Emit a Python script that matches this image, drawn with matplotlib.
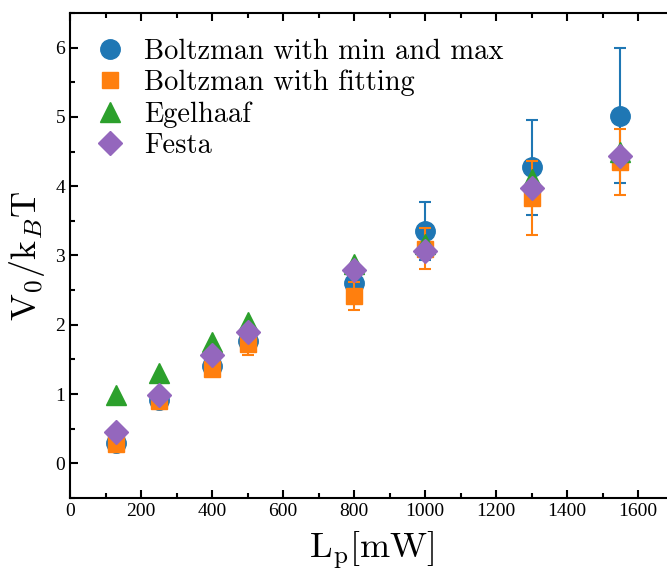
"""Barrier height V0/kBT against laser power for four estimation methods."""

import matplotlib
matplotlib.use("Agg")
import matplotlib.pyplot as plt
from matplotlib.font_manager import FontProperties
from matplotlib.ticker import MultipleLocator

# Laser power [mW]
power = [130, 250, 400, 500, 800, 1000, 1300, 1550]

# Boltzmann inversion using min and max of the potential
boltz_minmax = [0.30, 0.92, 1.40, 1.77, 2.61, 3.35, 4.27, 5.02]
boltz_minmax_err = [0.05, 0.08, 0.10, 0.15, 0.25, 0.42, 0.69, 0.97]

# Boltzmann inversion with a fitted potential
boltz_fit = [0.28, 0.90, 1.36, 1.72, 2.42, 3.10, 3.83, 4.35]
boltz_fit_err = [0.06, 0.06, 0.08, 0.15, 0.20, 0.30, 0.53, 0.48]

egelhaaf = [0.98, 1.30, 1.75, 2.04, 2.88, 3.16, 4.10, 4.50]
festa = [0.45, 0.98, 1.57, 1.90, 2.79, 3.06, 3.98, 4.44]

labels = [
    "Boltzman with min and max",
    "Boltzman with fitting",
    "Egelhaaf",
    "Festa",
]

plt.rcParams["font.family"] = ["Liberation Serif", "DejaVu Serif"]
plt.rcParams["mathtext.fontset"] = "cm"

fig = plt.figure(figsize=(6.67, 5.74), dpi=100)
# right edge sits just past the figure so the right spine is cut off
ax = fig.add_axes([0.105, 0.1324, 0.905, 0.845])

h1 = ax.errorbar(power, boltz_minmax, yerr=boltz_minmax_err, fmt="o",
                 color="#1f77b4", markersize=14, capsize=4, elinewidth=1.5,
                 capthick=1.5, zorder=2)
h2 = ax.errorbar(power, boltz_fit, yerr=boltz_fit_err, fmt="s",
                 color="#ff7f0e", markersize=12, capsize=4, elinewidth=1.5,
                 capthick=1.5, zorder=3)
h3, = ax.plot(power, egelhaaf, "^", color="#2ca02c", markersize=15,
              linestyle="none", zorder=4)
h4, = ax.plot(power, festa, "D", color="#9467bd", markersize=12,
              linestyle="none", zorder=5)

ax.set_xlim(0, 1700)
ax.set_ylim(-0.5, 6.5)
ax.xaxis.set_major_locator(MultipleLocator(200))
ax.xaxis.set_minor_locator(MultipleLocator(100))
ax.yaxis.set_major_locator(MultipleLocator(1))
ax.yaxis.set_minor_locator(MultipleLocator(0.5))
ax.tick_params(which="both", direction="in", top=True, right=False,
               width=1.5, labelsize=14)
ax.tick_params(which="major", length=6)
ax.tick_params(which="minor", length=3.5)
for side in ax.spines.values():
    side.set_linewidth(1.5)

ax.set_xlabel(r"$\mathrm{L_p[mW]}$", fontsize=26, labelpad=7)
ax.set_ylabel(r"$\mathrm{V_0/k}_B\mathrm{T}$", fontsize=26, labelpad=6)

ax.legend([h1[0], h2[0], h3, h4], labels, loc="upper left", frameon=False,
          handletextpad=0.7, labelspacing=0.17, borderaxespad=0.5,
          handlelength=1.0, prop=FontProperties(family="cmr10", size=20.5))

fig.savefig("out.png", dpi=100)
plt.close(fig)
